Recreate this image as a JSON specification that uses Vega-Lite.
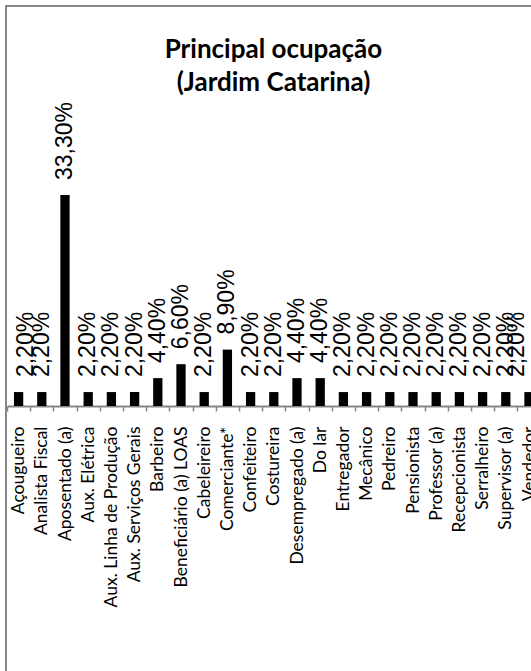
{
  "$schema": "https://vega.github.io/schema/vega-lite/v6.json",
  "autosize": {"type": "none"},
  "padding": {"left": 6, "top": 6, "right": 0, "bottom": 0},
  "width": 525,
  "height": 665,
  "background": "white",
  "title": {
    "text": ["Principal ocupação", "(Jardim Catarina)"],
    "orient": "top",
    "frame": "group",
    "anchor": "middle",
    "offset": -90,
    "baseline": "top",
    "dx": 5,
    "lineHeight": 33,
    "font": "Lato",
    "fontWeight": "bold",
    "fontSize": 26,
    "color": "black"
  },
  "data": {
    "values": [
      {"occ": "Açougueiro", "v": 0.022},
      {"occ": "Analista Fiscal", "v": 0.022},
      {"occ": "Aposentado (a)", "v": 0.333},
      {"occ": "Aux. Elétrica", "v": 0.022},
      {"occ": "Aux. Linha de Produção", "v": 0.022},
      {"occ": "Aux. Serviços Gerais", "v": 0.022},
      {"occ": "Barbeiro", "v": 0.044},
      {"occ": "Beneficiário (a) LOAS", "v": 0.066},
      {"occ": "Cabeleireiro", "v": 0.022},
      {"occ": "Comerciante*", "v": 0.089},
      {"occ": "Confeiteiro", "v": 0.022},
      {"occ": "Costureira", "v": 0.022},
      {"occ": "Desempregado (a)", "v": 0.044},
      {"occ": "Do lar", "v": 0.044},
      {"occ": "Entregador", "v": 0.022},
      {"occ": "Mecânico", "v": 0.022},
      {"occ": "Pedreiro", "v": 0.022},
      {"occ": "Pensionista", "v": 0.022},
      {"occ": "Professor (a)", "v": 0.022},
      {"occ": "Recepcionista", "v": 0.022},
      {"occ": "Serralheiro", "v": 0.022},
      {"occ": "Supervisor (a)", "v": 0.022},
      {"occ": "Vendedor", "v": 0.022}
    ]
  },
  "encoding": {
    "x": {
      "field": "occ",
      "type": "nominal",
      "sort": null,
      "scale": {"range": [1, 534.6], "paddingInner": 0, "paddingOuter": 0},
      "axis": {
        "title": null,
        "orient": "bottom",
        "offset": -265,
        "labelAngle": 270,
        "labelFont": "Lato",
        "labelFontSize": 17.5,
        "labelColor": "black",
        "labelPadding": 15,
        "labelOverlap": false,
        "labelBound": false,
        "labelLimit": 400,
        "tickBand": "extent",
        "tickSize": 5,
        "tickWidth": 1.5,
        "tickColor": "#868686",
        "domainColor": "#868686",
        "domainWidth": 2,
        "grid": false
      }
    },
    "y": {
      "field": "v",
      "type": "quantitative",
      "scale": {"domain": [0, 0.333], "range": [400, 189]},
      "axis": null
    },
    "text": {"field": "v", "type": "quantitative", "format": ".2%"}
  },
  "layer": [
    {"mark": {"type": "bar", "color": "black", "width": {"band": 0.4}}},
    {
      "transform": [{"filter": {"not": {"field": "occ", "oneOf": ["Açougueiro", "Vendedor"]}}}],
      "mark": {
        "type": "text",
        "angle": 270,
        "align": "left",
        "baseline": "middle",
        "dx": 15,
        "font": "Liberation Sans",
        "fontSize": 23,
        "color": "black"
      }
    },
    {
      "transform": [{"filter": {"field": "occ", "equal": "Açougueiro"}}],
      "mark": {
        "type": "text",
        "angle": 270,
        "align": "left",
        "baseline": "middle",
        "dx": 15,
        "dy": 7,
        "font": "Liberation Sans",
        "fontSize": 23,
        "color": "black"
      }
    },
    {
      "transform": [{"filter": {"field": "occ", "equal": "Vendedor"}}],
      "mark": {
        "type": "text",
        "angle": 270,
        "align": "left",
        "baseline": "middle",
        "dx": 15,
        "dy": -12,
        "font": "Liberation Sans",
        "fontSize": 23,
        "color": "black"
      }
    }
  ],
  "config": {
    "locale": {"number": {"decimal": ",", "thousands": ".", "grouping": [3], "currency": ["R$", ""]}},
    "view": {"stroke": "#868686", "strokeWidth": 2, "strokeDash": [525, 1190, 665]}
  }
}
